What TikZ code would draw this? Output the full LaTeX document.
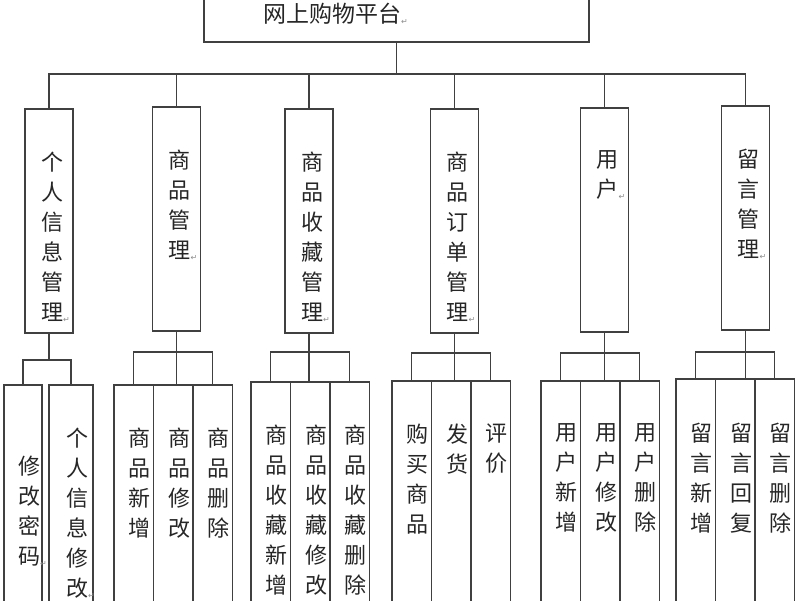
\documentclass[tikz,border=0pt]{standalone}
\usepackage{fontspec}
\usepackage{tikz}
\usetikzlibrary{positioning}
\newfontfamily\cjkfont{Noto Sans CJK SC}
\newfontfamily\symfont{DejaVu Sans}
\definecolor{linegray}{rgb}{0.25,0.25,0.25}
\definecolor{textgray}{rgb}{0.15,0.15,0.15}
\definecolor{markgray}{rgb}{0.55,0.55,0.55}

% paragraph mark after a label
\newcommand{\retmark}{\rlap{\raisebox{-2pt}{\symfont\fontsize{8}{8}\selectfont\color{markgray}↵}}}
% one character per line, text starts near the top of the box
\newcommand{\midtext}[1]{\hspace*{6pt}\parbox[t][224pt][t]{22pt}{\centering\vspace*{43pt}#1}}
\newcommand{\leaftext}[2][43pt]{\hspace*{12pt}\parbox[t][250pt][t]{22pt}{\centering\vspace*{#1}#2}}

\begin{document}
\begin{tikzpicture}[
            x = 1pt, y = -1pt, % pixel grid, y pointing down
            line width = 1.3pt,
            color = linegray
        ]

        \tikzstyle{blk}=[
            draw,
            rectangle,
            inner sep = 0pt,
            outer sep = 0pt,
            text = textgray,
            font = \cjkfont\fontsize{22}{30}\selectfont
        ]
        \tikzstyle{modbox}=[blk, anchor = north, minimum width = 48pt]
        \tikzstyle{leafbox}=[blk, anchor = north, minimum width = 39.5pt]

        \useasboundingbox (0,0) rectangle (800,600);
        \clip (0,0) rectangle (800,600);

        % top level
        \node[blk, anchor = south, minimum width = 385pt, minimum height = 56pt,
              text width = 385pt, align = left,
              font = \cjkfont\fontsize{23}{28}\selectfont] (top) at (396.5,42)
              {\hspace*{59pt}网上购物平台\retmark};

        % modules
        \node[modbox] (info) at (49,109) {\midtext{个\\人\\信\\息\\管\\理\retmark}};
        \node[modbox] (goods) at (176.5,107) {\midtext{商\\品\\管\\理\retmark}};
        \node[modbox] (fav) at (309,109) {\midtext{商\\品\\收\\藏\\管\\理\retmark}};
        \node[modbox] (order) at (454.5,109) {\midtext{商\\品\\订\\单\\管\\理\retmark}};
        \node[modbox] (user) at (604.5,108) {\midtext{用\\户\retmark}};
        \node[modbox] (msg) at (745.5,106) {\midtext{留\\言\\管\\理\retmark}};

        \draw (top.south) -- ++(0,32) coordinate (bus);
        \draw (info.north) |- (bus) -| (msg.north);
        \foreach \m in {goods, fav, order, user}
            \draw (\m.north) -- (\m.north |- bus);

        % functions: personal info
        \node[leafbox, minimum width = 38pt] (pwd) at (23,385) {\leaftext[71pt]{修\\改\\密\\码\retmark}};
        \node[leafbox, minimum width = 44pt] (infoedit) at (71,385) {\leaftext{个\\人\\信\\息\\修\\改\retmark}};

        \draw (info.south) -- ++(0,27) coordinate (b1);
        \draw (pwd.north) |- (b1) -| (infoedit.north);

        % functions: goods
        \node[leafbox] (gadd) at (133.75,385) {\leaftext{商\\品\\新\\增}};
        \node[leafbox, right = 0pt of gadd] (gedit) {\leaftext{商\\品\\修\\改}};
        \node[leafbox, right = 0pt of gedit] (gdel) {\leaftext{商\\品\\删\\除}};

        \draw (goods.south) -- ++(0,21) coordinate (b2) -- (goods.south |- gedit.north);
        \draw (gadd.north) |- (b2) -| (gdel.north);

        % functions: favourites
        \node[leafbox] (fadd) at (270.75,382) {\leaftext{商\\品\\收\\藏\\新\\增}};
        \node[leafbox, right = 0pt of fadd] (fedit) {\leaftext{商\\品\\收\\藏\\修\\改}};
        \node[leafbox, right = 0pt of fedit] (fdel) {\leaftext{商\\品\\收\\藏\\删\\除}};

        \draw (fav.south) -- ++(0,19) coordinate (b3) -- (fav.south |- fedit.north);
        \draw (fadd.north) |- (b3) -| (fdel.north);

        % functions: orders
        \node[leafbox] (buy) at (411.75,381) {\leaftext{购\\买\\商\\品}};
        \node[leafbox, right = 0pt of buy] (ship) {\leaftext{发\\货}};
        \node[leafbox, right = 0pt of ship] (rate) {\leaftext{评\\价}};

        \draw (order.south) -- ++(0,20) coordinate (b4) -- (order.south |- ship.north);
        \draw (buy.north) |- (b4) -| (rate.north);

        % functions: users
        \node[leafbox] (uadd) at (560.75,381) {\leaftext{用\\户\\新\\增}};
        \node[leafbox, right = 0pt of uadd] (uedit) {\leaftext{用\\户\\修\\改}};
        \node[leafbox, right = 0pt of uedit] (udel) {\leaftext{用\\户\\删\\除}};

        \draw (user.south) -- ++(0,21) coordinate (b5) -- (user.south |- uedit.north);
        \draw (uadd.north) |- (b5) -| (udel.north);

        % functions: messages
        \node[leafbox] (madd) at (695.75,379) {\leaftext[44pt]{留\\言\\新\\增}};
        \node[leafbox, right = 0pt of madd] (mreply) {\leaftext[44pt]{留\\言\\回\\复}};
        \node[leafbox, right = 0pt of mreply] (mdel) {\leaftext[44pt]{留\\言\\删\\除}};

        \draw (msg.south) -- ++(0,22) coordinate (b6) -- (msg.south |- mreply.north);
        \draw (madd.north) |- (b6) -| (mdel.north);

\end{tikzpicture}
\end{document}
